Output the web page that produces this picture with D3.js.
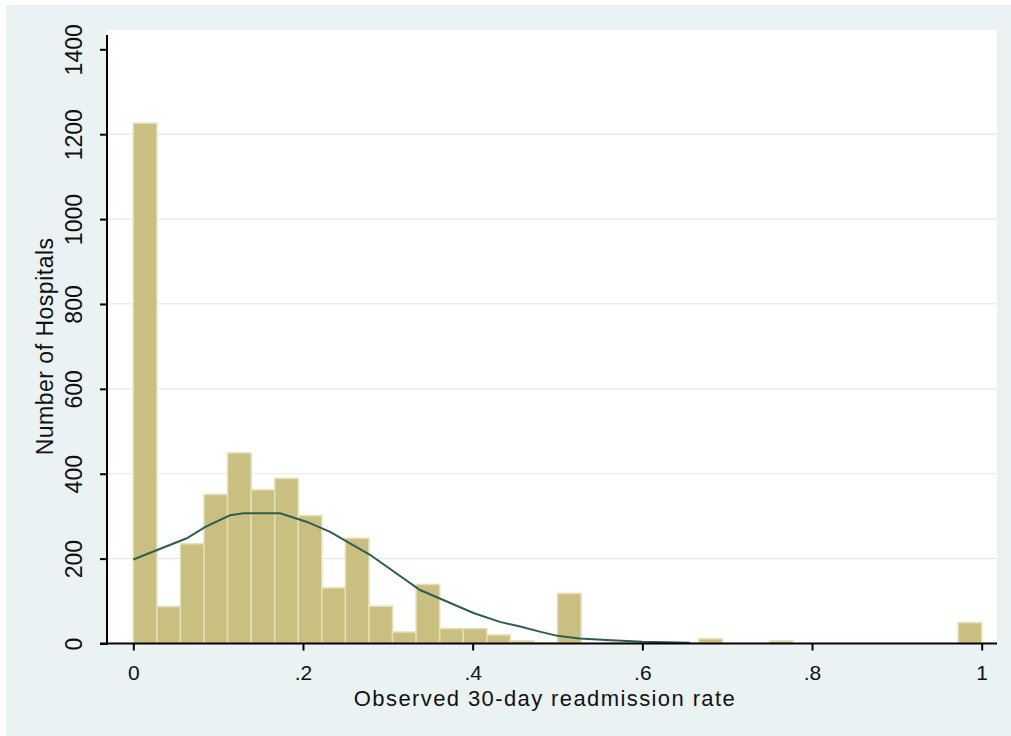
<!DOCTYPE html>
<html>
<head>
<meta charset="utf-8">
<script src="https://cdn.jsdelivr.net/npm/d3@7"></script>
<style>
  html, body { margin: 0; padding: 0; background: #ffffff; }
  svg { display: block; }
  text { font-family: "Liberation Sans", Arial, sans-serif; fill: #111; }
</style>
</head>
<body>
<svg id="chart" width="1011" height="736"></svg>
<script>
// Histogram of observed 30-day readmission rates: 36 equal bins over [0, 1]
const binCount = 36;
const hospitalCounts = [
  1226, 87, 235, 351, 449, 362, 389, 301, 131, 248, 88, 27,
  139, 35, 35, 20, 6, 2, 118, 0, 2, 2, 1, 1,
  11, 0, 0, 6, 0, 0, 0, 0, 0, 0, 0, 49
];

// Normal density overlay, scaled to counts (rate, count)
const normalRate  = [0, 0.063, 0.085, 0.114, 0.13, 0.173, 0.204, 0.232, 0.279, 0.338, 0.401, 0.432, 0.456, 0.479, 0.5, 0.526, 0.558, 0.6, 0.656];
const normalCount = [198, 248, 275, 302, 307, 307, 287, 263, 209, 126, 72, 51, 40, 28, 18, 12, 8, 4, 2];

// Axis ticks
const xTicks = [0, 0.2, 0.4, 0.6, 0.8, 1];
const xTickLabels = ["0", ".2", ".4", ".6", ".8", "1"];
const yTicks = [0, 200, 400, 600, 800, 1000, 1200, 1400];
const yGridTicks = [200, 400, 600, 800, 1000, 1200];

const xTitle = "Observed 30-day readmission rate";
const yTitle = "Number of Hospitals";

const svg = d3.select("#chart");

// Layout
const plot = { left: 107, right: 997, top: 30, bottom: 645 };
const x = d3.scaleLinear().domain([0, 1]).range([133.3, 981.7]);
const y = d3.scaleLinear().domain([0, 1400]).range([643.5, 49.3]);

// Graph region and plot region backgrounds
svg.append("rect").attr("x", 6).attr("y", 5).attr("width", 1005).attr("height", 731)
  .attr("fill", "#eaf2f3");
svg.append("rect").attr("x", plot.left).attr("y", plot.top)
  .attr("width", plot.right - plot.left).attr("height", plot.bottom - plot.top)
  .attr("fill", "#ffffff");

// Horizontal grid lines
svg.append("g").selectAll("line").data(yGridTicks).join("line")
  .attr("x1", plot.left).attr("x2", plot.right)
  .attr("y1", d => y(d)).attr("y2", d => y(d))
  .attr("stroke", "#e4eaea").attr("stroke-width", 1.2);

// Bars
const bins = hospitalCounts.map((c, i) => ({ x0: i / binCount, x1: (i + 1) / binCount, count: c }));
svg.append("g").selectAll("rect").data(bins.filter(b => b.count > 0)).join("rect")
  .attr("x", d => x(d.x0))
  .attr("width", d => x(d.x1) - x(d.x0))
  .attr("y", d => y(d.count))
  .attr("height", d => y(0) - y(d.count))
  .attr("fill", "#c9bf80")
  .attr("stroke", "#e6dfb4")
  .attr("stroke-width", 1.5);

// Normal curve
const curvePts = normalRate.map((r, i) => [r, normalCount[i]]);
svg.append("path")
  .datum(curvePts)
  .attr("fill", "none")
  .attr("stroke", "#2c5f52")
  .attr("stroke-width", 2)
  .attr("d", d3.line().x(d => x(d[0])).y(d => y(d[1])));

// Y axis
const yAxis = svg.append("g")
  .attr("transform", `translate(${plot.left},0)`)
  .call(d3.axisLeft(y).tickValues(yTicks).tickSize(7).tickSizeOuter(0).tickFormat(d3.format("d")));
yAxis.select(".domain").remove();
yAxis.selectAll(".tick line").attr("stroke", "#000").attr("stroke-width", 2);
yAxis.selectAll(".tick text")
  .attr("x", null).attr("dy", null)
  .attr("text-anchor", "middle")
  .attr("transform", "translate(-25,0) rotate(-90)")
  .style("font-size", "23px")
  .style("font-family", "'Liberation Sans', Arial, sans-serif")
  .attr("fill", "#111");
svg.append("line")
  .attr("x1", plot.left).attr("x2", plot.left)
  .attr("y1", 35).attr("y2", plot.bottom)
  .attr("stroke", "#000").attr("stroke-width", 2);

// X axis
const xAxis = svg.append("g")
  .attr("transform", `translate(0,${y(0)})`)
  .call(d3.axisBottom(x).tickValues(xTicks).tickSize(7).tickSizeOuter(0)
    .tickFormat((d, i) => xTickLabels[i]));
xAxis.select(".domain").remove();
xAxis.selectAll(".tick line").attr("stroke", "#000").attr("stroke-width", 2);
xAxis.selectAll(".tick text")
  .attr("y", 36).attr("dy", null)
  .style("font-size", "21px")
  .style("font-family", "'Liberation Sans', Arial, sans-serif")
  .attr("fill", "#111");
svg.append("line")
  .attr("x1", 100).attr("x2", plot.right)
  .attr("y1", y(0)).attr("y2", y(0))
  .attr("stroke", "#000").attr("stroke-width", 2);

// Axis titles
svg.append("text")
  .attr("x", 545).attr("y", 706)
  .attr("text-anchor", "middle")
  .style("font-size", "22px")
  .style("letter-spacing", "1.4px")
  .text(xTitle);

svg.append("text")
  .attr("transform", `translate(53,${(y(0) + y(1400)) / 2}) rotate(-90)`)
  .attr("text-anchor", "middle")
  .style("font-size", "23px")
  .style("letter-spacing", "0.5px")
  .text(yTitle);
</script>
</body>
</html>
